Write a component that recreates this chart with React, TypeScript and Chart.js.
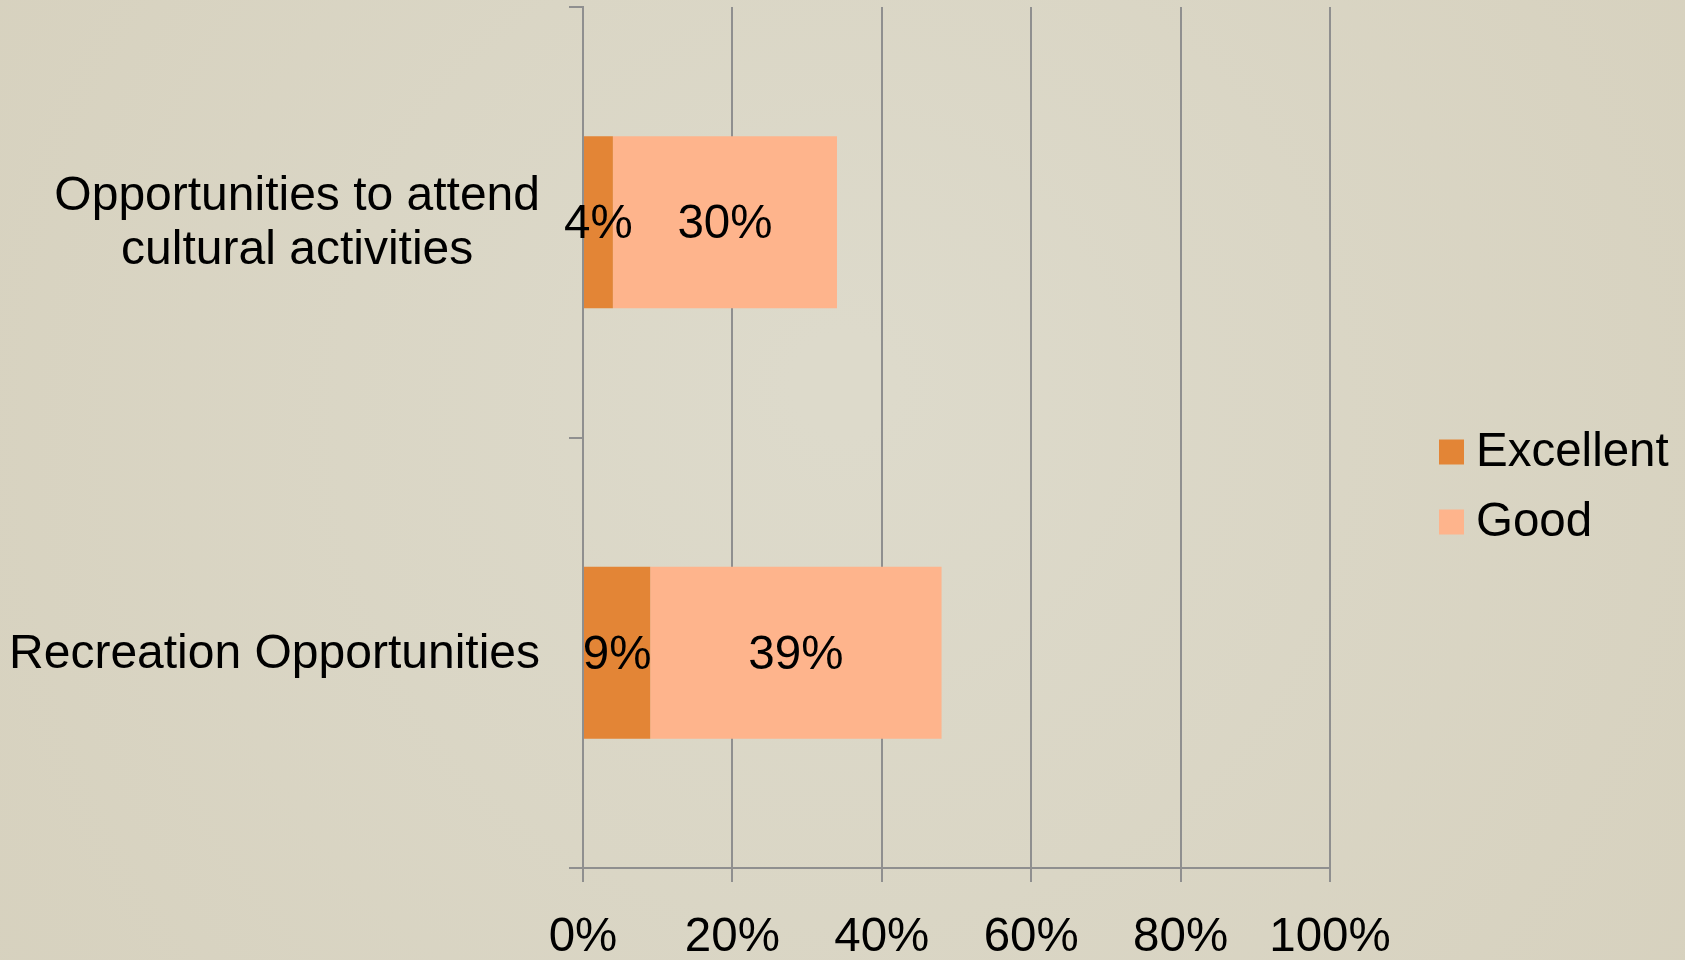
import React, { useEffect, useRef } from "react";
import { Chart, registerables } from "chart.js";

Chart.register(...registerables);

const categories: string[][] = [
  ["Opportunities to attend", "cultural activities"],
  ["Recreation Opportunities"],
];
const seriesNames = ["Excellent", "Good"];
const excellentValues = [4, 9];
const goodValues = [30, 39];
const seriesColors = ["#E38536", "#FEB48C"];
const xTickValues = [0, 20, 40, 60, 80, 100];

const FONT = "'Liberation Sans', Arial, Helvetica, sans-serif";
const FONT_SIZE = 47.5;
const CAT_FONT_SIZE = 48;
const GRID = "#8f8f8f";

const backgroundPlugin = {
  id: "bgFill",
  beforeDraw(chart: any) {
    const { ctx, width, height } = chart;
    ctx.save();
    const g = ctx.createRadialGradient(width * 0.5, height * 0.4, 50, width * 0.5, height * 0.5, width * 0.75);
    g.addColorStop(0, "#dddacb");
    g.addColorStop(1, "#d5cfbb");
    ctx.fillStyle = g;
    ctx.fillRect(0, 0, width, height);
    ctx.restore();
  },
};

const dataLabelPlugin = {
  id: "segLabels",
  afterDatasetsDraw(chart: any) {
    const { ctx } = chart;
    ctx.save();
    ctx.font = `${FONT_SIZE}px ${FONT}`;
    ctx.fillStyle = "#000";
    ctx.textAlign = "center";
    ctx.textBaseline = "middle";
    chart.getSortedVisibleDatasetMetas().forEach((meta: any) => {
      const ds = chart.data.datasets[meta.index];
      meta.data.forEach((el: any, i: number) => {
        const v = ds.data[i];
        const cx = (el.x + el.base) / 2;
        ctx.fillText(`${v}%`, cx, el.y + 3);
      });
    });
    ctx.restore();
  },
};

const categoryLabelPlugin = {
  id: "catLabels",
  afterDraw(chart: any) {
    const { ctx } = chart;
    const yScale = chart.scales.y;
    const rightEdge = chart.chartArea.left - 43;
    const lineH = 54;
    ctx.save();
    ctx.font = `${CAT_FONT_SIZE}px ${FONT}`;
    ctx.fillStyle = "#000";
    ctx.textAlign = "center";
    ctx.textBaseline = "middle";
    categories.forEach((lines, i) => {
      const cy = yScale.getPixelForValue(i) + 2;
      const widest = Math.max(...lines.map((l) => ctx.measureText(l).width));
      const cx = rightEdge - widest / 2;
      const startY = cy - ((lines.length - 1) * lineH) / 2;
      lines.forEach((l, k) => ctx.fillText(l, cx, startY + k * lineH));
    });
    ctx.restore();
  },
};

const legendPlugin = {
  id: "sideLegend",
  afterDraw(chart: any) {
    const { ctx } = chart;
    const boxX = 1439;
    const textX = 1476;
    const firstY = 452;
    const step = 70;
    const box = 25;
    ctx.save();
    ctx.font = `${FONT_SIZE}px ${FONT}`;
    ctx.textAlign = "left";
    ctx.textBaseline = "middle";
    chart.data.datasets.forEach((ds: any, i: number) => {
      const cy = firstY + i * step;
      ctx.fillStyle = ds.backgroundColor;
      ctx.fillRect(boxX, cy - box / 2, box, box);
      ctx.fillStyle = "#000";
      ctx.fillText(ds.label, textX, cy + 1);
    });
    ctx.restore();
  },
};

export default function App() {
  const ref = useRef<HTMLCanvasElement | null>(null);

  useEffect(() => {
    if (!ref.current) return;
    const chart = new Chart(ref.current, {
      type: "bar",
      data: {
        labels: categories.map((c) => c.join(" ")),
        datasets: [
          {
            label: seriesNames[0],
            data: excellentValues,
            backgroundColor: seriesColors[0],
            barPercentage: 0.4,
            categoryPercentage: 1,
          },
          {
            label: seriesNames[1],
            data: goodValues,
            backgroundColor: seriesColors[1],
            barPercentage: 0.4,
            categoryPercentage: 1,
          },
        ],
      },
      options: {
        indexAxis: "y",
        animation: false,
        responsive: true,
        maintainAspectRatio: false,
        layout: { padding: { top: 7, left: 569, right: 355, bottom: 0 } },
        plugins: {
          legend: { display: false },
          tooltip: { enabled: false },
        },
        scales: {
          x: {
            stacked: true,
            min: 0,
            max: 100,
            afterBuildTicks: (scale: any) => {
              scale.ticks = xTickValues.map((v) => ({ value: v }));
            },
            afterFit: (scale: any) => {
              scale.height = 92;
            },
            grid: {
              color: GRID,
              lineWidth: 2,
              tickLength: 14,
              drawTicks: true,
            },
            border: { display: true, color: GRID, width: 2 },
            ticks: {
              color: "#000",
              padding: 34,
              font: { family: FONT, size: FONT_SIZE, lineHeight: 0.94 },
              callback: (v: any) => `${v}%`,
              maxRotation: 0,
              autoSkip: false,
            },
          },
          y: {
            stacked: true,
            grid: {
              drawOnChartArea: false,
              drawTicks: true,
              tickLength: 14,
              color: GRID,
              lineWidth: 2,
              offset: true,
            },
            border: { display: true, color: GRID, width: 2 },
            ticks: { display: false },
          },
        },
      },
      plugins: [backgroundPlugin, dataLabelPlugin, categoryLabelPlugin, legendPlugin],
    });
    return () => chart.destroy();
  }, []);

  return (
    <div style={{ position: "fixed", left: 0, top: 0, width: "1685px", height: "960px" }}>
      <canvas ref={ref} />
    </div>
  );
}
